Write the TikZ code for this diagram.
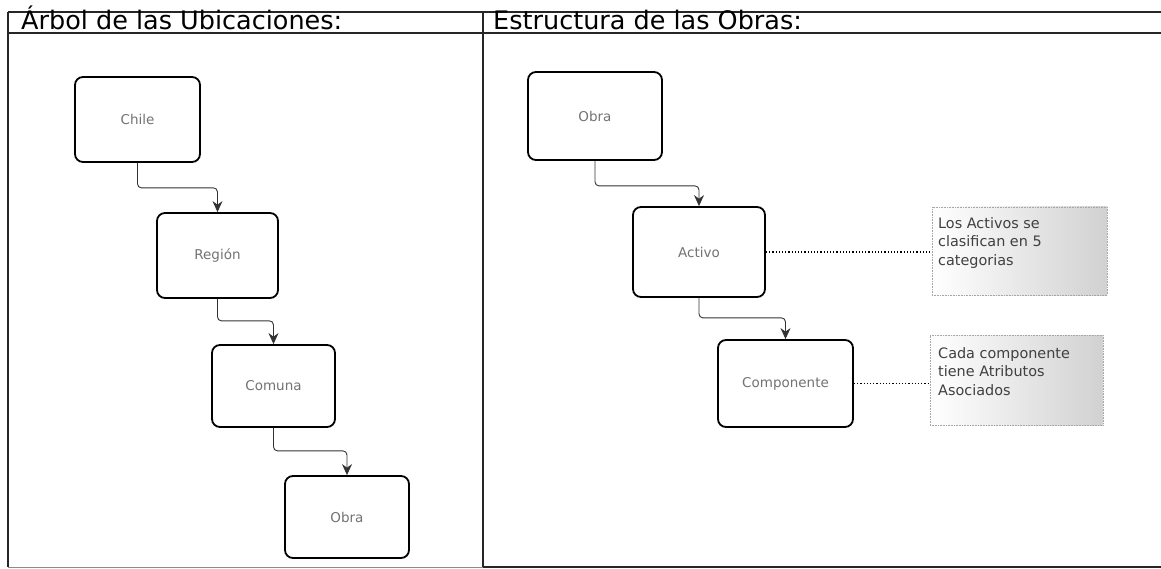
\documentclass[tikz,border=0pt]{standalone}
\usepackage{fontspec}
\setmainfont{DejaVu Sans}
\usetikzlibrary{arrows.meta}
\tikzset{
  frameline/.style={draw=black!85, line width=1.1pt},
  titletext/.style={anchor=base west, inner sep=0pt, font=\fontsize{25.5}{30}\selectfont, text=black},
  box/.style={draw=black, line width=1.8pt, rounded corners=8pt, fill=white, inner sep=0pt,
              font=\fontsize{13.5}{16}\selectfont, text=black!55},
  link/.style={draw=black!80, line width=0.9pt, rounded corners=4pt, -{Stealth[length=11pt,width=10pt]}},
  note/.style={draw=black!35, densely dotted, line width=0.6pt, left color=white, right color=black!18,
               inner sep=0pt},
  notetext/.style={anchor=north west, align=left, inner sep=0pt,
                   font=\fontsize{14.4}{18.5}\selectfont, text=black!75},
  dotlink/.style={draw=black, dotted, line width=1.2pt}
}
\begin{document}
\begin{tikzpicture}[x=1pt,y=-1pt]
\useasboundingbox (0,0) rectangle (1161,569);
% frame
\draw[frameline] (8,12) -- (1161,12);
\draw[frameline] (8,33) -- (1161,33);
\draw[frameline] (8,12) -- (8,567);
\draw[frameline] (483,12) -- (483,567);
\draw[draw=black!45, line width=0.8pt] (8,567) -- (483,567);
\draw[frameline] (483,567) -- (1161,567);
\node[titletext] (t1) at (21,30) {Árbol de las Ubicaciones:};
\node[titletext] (t2) at (493,30) {Estructura de las Obras:};
% left tree
\node[box, minimum width=125pt, minimum height=85pt] (chile) at (137.5,119.5) {Chile};
\node[box, minimum width=121pt, minimum height=85pt] (region) at (217.5,255.5) {Región};
\node[box, minimum width=123pt, minimum height=82pt] (comuna) at (273.5,386) {Comuna};
\node[box, minimum width=124pt, minimum height=82pt] (obraL) at (347,517) {Obra};
\draw[link] (chile.south) -- ++(0,25) -| (region.north);
\draw[link] (region.south) -- ++(0,22) -| (comuna.north);
\draw[link] (comuna.south) -- ++(0,23) -| (obraL.north);
% right tree
\node[box, minimum width=134pt, minimum height=88pt] (obraR) at (595,116) {Obra};
\node[box, minimum width=132pt, minimum height=90pt] (activo) at (699,252) {Activo};
\node[box, minimum width=135pt, minimum height=87pt] (comp) at (785.5,383.5) {Componente};
\draw[link] (obraR.south) -- ++(0,25) -| (activo.north);
\draw[link] (activo.south) -- ++(0,20) -| (comp.north);
% notes
\node[note, minimum width=175pt, minimum height=88pt] (n1) at (1019.5,251) {};
\node[note, minimum width=173pt, minimum height=90pt] (n2) at (1016.5,380) {};
\node[notetext] (n1t) at (938,217) {Los Activos se\\clasifican en 5\\categorias};
\node[notetext] (n2t) at (938,347) {Cada componente\\tiene Atributos\\Asociados};
\draw[dotlink] (activo.east) -- (activo.east -| n1.west);
\draw[dotlink] (comp.east) -- (comp.east -| n2.west);
\end{tikzpicture}
\end{document}
